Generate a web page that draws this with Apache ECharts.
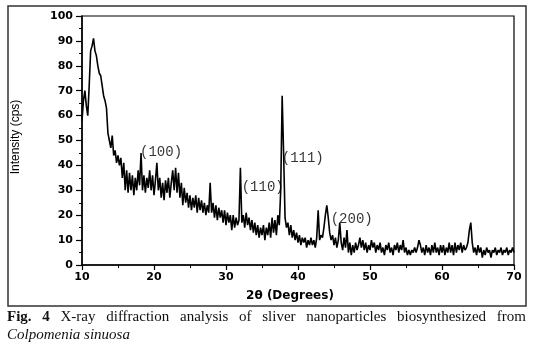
<!DOCTYPE html>
<html>
<head>
<meta charset="utf-8">
<script src="https://cdn.jsdelivr.net/npm/echarts@6/dist/echarts.min.js"></script>
<style>
  html, body { margin: 0; padding: 0; background: #fff; }
  #chart { width: 536px; height: 352px; }
</style>
</head>
<body>
<div id="chart"></div>
<script>
// 2θ 从 10 到 70，步长 0.2
const xStart = 10;
const xStep = 0.2;
// 强度 (cps)，每行 2 度
const intensity = [
  58, 66, 70, 64, 60, 72, 86, 88, 91, 86,   // 10.0
  84, 80, 77, 76, 72, 68, 66, 63, 53, 50,   // 12.0
  47, 52, 44, 46, 41, 44, 40, 43, 35, 41,   // 14.0
  30, 38, 29, 37, 30, 36, 28, 35, 30, 38,   // 16.0
  32, 45, 30, 36, 29, 35, 31, 38, 30, 36,   // 18.0
  28, 34, 41, 30, 35, 27, 33, 26, 34, 29,   // 20.0
  35, 27, 33, 38, 30, 39, 29, 37, 27, 33,   // 22.0
  24, 31, 25, 29, 23, 28, 22, 27, 23, 28,   // 24.0
  21, 27, 22, 26, 21, 25, 20, 24, 21, 33,   // 26.0
  21, 25, 19, 24, 18, 23, 19, 22, 17, 22,   // 28.0
  16, 21, 17, 20, 14, 20, 15, 19, 16, 18,   // 30.0
  39, 17, 20, 15, 21, 16, 19, 14, 18, 13,   // 32.0
  17, 12, 16, 11, 15, 12, 16, 10, 15, 12,   // 34.0
  17, 11, 19, 13, 18, 12, 20, 16, 30, 68,   // 36.0
  45, 19, 15, 17, 12, 16, 11, 14, 10, 13,   // 38.0
  9, 12, 8, 11, 9, 11, 7, 10, 8, 11,        // 40.0
  8, 10, 7, 11, 22, 10, 12, 11, 15, 20,     // 42.0
  24, 19, 13, 10, 12, 8, 11, 7, 10, 17,     // 44.0
  9, 6, 11, 7, 14, 5, 9, 4, 8, 5,           // 46.0
  9, 6, 8, 11, 7, 10, 6, 9, 5, 8,           // 48.0
  6, 10, 7, 9, 5, 8, 6, 9, 5, 7,            // 50.0
  4, 8, 6, 9, 5, 7, 4, 8, 6, 9,             // 52.0
  5, 8, 6, 10, 5, 7, 4, 6, 4, 6,            // 54.0
  5, 7, 5, 7, 10, 8, 5, 7, 4, 8,            // 56.0
  5, 7, 4, 8, 5, 9, 5, 7, 4, 8,             // 58.0
  5, 8, 4, 7, 5, 9, 5, 8, 4, 9,             // 60.0
  5, 8, 6, 9, 5, 8, 6, 7, 9, 14,            // 62.0
  17, 9, 5, 7, 4, 8, 5, 7, 3, 6,            // 64.0
  4, 7, 5, 6, 3, 6, 5, 7, 4, 6,             // 66.0
  5, 7, 4, 6, 5, 7, 4, 6, 5, 7,             // 68.0
  5                                         // 70.0
];

// 晶面标注
const peakLabels = ['(100)', '(110)', '(111)', '(200)'];
const peakLabelX = [18.06, 32.18, 37.74, 44.54];
const peakLabelY = [45.4, 31.3, 43.0, 18.5];

const xTicks = { min: 10, max: 70, interval: 10 };
const yTicks = { min: 0, max: 100, interval: 10 };

const xyData = intensity.map((v, i) => [+(xStart + i * xStep).toFixed(1), v]);
const labelData = peakLabels.map((t, i) => [peakLabelX[i], peakLabelY[i], t]);

// 图注（两端对齐）
const captionWords = ['Fig.', '4', 'X-ray', 'diffraction', 'analysis', 'of', 'sliver',
  'nanoparticles', 'biosynthesized', 'from'];
const captionBold = 2;
const captionLine2 = 'Colpomenia sinuosa';

const capFont = '"Liberation Serif", serif';
const capSize = 15;

function captionGraphics() {
  const cv = document.createElement('canvas').getContext('2d');
  const widths = captionWords.map((w, i) => {
    cv.font = (i < captionBold ? 'bold ' : '') + capSize + 'px ' + capFont;
    return cv.measureText(w).width;
  });
  const left = 7, right = 526;
  const total = widths.reduce((a, b) => a + b, 0);
  const gap = (right - left - total) / (captionWords.length - 1);
  let x = left;
  const out = [];
  captionWords.forEach((w, i) => {
    out.push({
      type: 'text', left: x, top: 310,
      style: {
        text: w, fill: '#111',
        font: (i < captionBold ? 'bold ' : '') + capSize + 'px ' + capFont
      }
    });
    x += widths[i] + gap;
  });
  out.push({
    type: 'text', left: 7, top: 328,
    style: { text: captionLine2, fill: '#111', font: 'italic ' + capSize + 'px ' + capFont }
  });
  return out;
}

const chart = echarts.init(document.getElementById('chart'), null, { renderer: 'canvas' });

const tickFont = 'DejaVu Sans';

chart.setOption({
  animation: false,
  backgroundColor: '#fff',
  grid: {
    left: 82, right: 22, top: 16, bottom: 87,
    show: true, borderColor: '#000', borderWidth: 1.2, backgroundColor: 'transparent'
  },
  xAxis: {
    type: 'value',
    min: xTicks.min, max: xTicks.max, interval: xTicks.interval,
    axisLine: { show: true, onZero: false, lineStyle: { color: '#000', width: 1.5 } },
    axisTick: { show: true, inside: false, length: 5, lineStyle: { color: '#000', width: 1.2 } },
    minorTick: { show: true, splitNumber: 2, length: 3, lineStyle: { color: '#000', width: 1 } },
    splitLine: { show: false },
    axisLabel: { color: '#000', fontFamily: tickFont, fontWeight: 'bold', fontSize: 11, margin: 7 }
  },
  yAxis: {
    type: 'value',
    min: yTicks.min, max: yTicks.max, interval: yTicks.interval,
    axisLine: { show: true, lineStyle: { color: '#000', width: 1.5 } },
    axisTick: { show: true, inside: false, length: 6, lineStyle: { color: '#000', width: 1.2 } },
    minorTick: { show: true, splitNumber: 2, length: 3, lineStyle: { color: '#000', width: 1 } },
    splitLine: { show: false },
    axisLabel: { color: '#000', fontFamily: tickFont, fontWeight: 'bold', fontSize: 11, margin: 9 }
  },
  series: [
    {
      type: 'line',
      data: xyData,
      showSymbol: false,
      symbol: 'none',
      lineStyle: { color: '#000', width: 1.6 },
      z: 3
    },
    {
      type: 'scatter',
      data: labelData,
      symbolSize: 0,
      silent: true,
      label: {
        show: true, position: 'right', distance: 0,
        formatter: p => p.value[2],
        color: '#000', fontFamily: '"Liberation Mono", monospace', fontSize: 14
      },
      z: 4
    }
  ],
  graphic: [
    {
      type: 'rect', shape: { x: 8, y: 6, width: 518, height: 300 },
      style: { fill: 'none', stroke: '#333', lineWidth: 1.5 }, z: -1
    },
    {
      type: 'text', x: 16, y: 137, rotation: Math.PI / 2,
      style: {
        text: 'Intensity (cps)', fill: '#000', align: 'center', verticalAlign: 'middle',
        font: '12px "Liberation Sans", Arial, sans-serif'
      }
    },
    {
      type: 'text', x: 290, y: 296,
      style: {
        text: '2θ (Degrees)', fill: '#000', align: 'center', verticalAlign: 'middle',
        font: 'bold 12px "DejaVu Sans", sans-serif'
      }
    }
  ].concat(captionGraphics())
});
</script>
</body>
</html>
